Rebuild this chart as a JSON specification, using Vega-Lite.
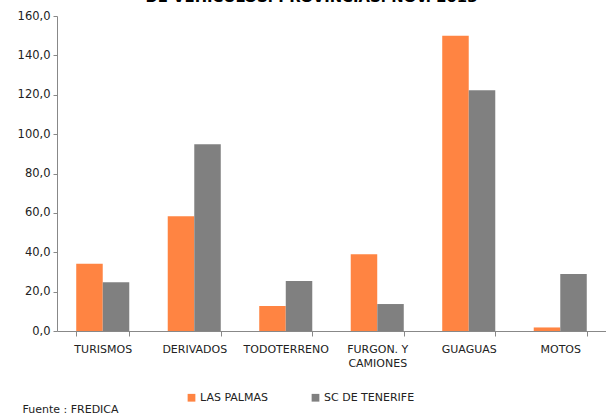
{
  "$schema": "https://vega.github.io/schema/vega-lite/v6.json",
  "width": 549,
  "height": 315,
  "autosize": {"type": "none"},
  "padding": {"left": 57, "top": 16, "right": 0, "bottom": 84},
  "background": "white",
  "title": {
    "text": "DE VEHÍCULOS. PROVINCIAS. NOV. 2013",
    "font": "DejaVu Sans",
    "fontSize": 14.8,
    "fontWeight": "bold",
    "color": "#000000",
    "anchor": "middle",
    "frame": "group",
    "dx": -20,
    "baseline": "alphabetic",
    "offset": 0,
    "dy": 7
  },
  "data": {
    "values": [
      {"tipo": "TURISMOS", "provincia": "LAS PALMAS", "valor": 34.1},
      {"tipo": "TURISMOS", "provincia": "SC DE TENERIFE", "valor": 24.8},
      {"tipo": "DERIVADOS", "provincia": "LAS PALMAS", "valor": 58.3},
      {"tipo": "DERIVADOS", "provincia": "SC DE TENERIFE", "valor": 94.9},
      {"tipo": "TODOTERRENO", "provincia": "LAS PALMAS", "valor": 12.7},
      {"tipo": "TODOTERRENO", "provincia": "SC DE TENERIFE", "valor": 25.4},
      {"tipo": "FURGON. Y CAMIONES", "provincia": "LAS PALMAS", "valor": 39.0},
      {"tipo": "FURGON. Y CAMIONES", "provincia": "SC DE TENERIFE", "valor": 13.7},
      {"tipo": "GUAGUAS", "provincia": "LAS PALMAS", "valor": 150.0},
      {"tipo": "GUAGUAS", "provincia": "SC DE TENERIFE", "valor": 122.3},
      {"tipo": "MOTOS", "provincia": "LAS PALMAS", "valor": 1.8},
      {"tipo": "MOTOS", "provincia": "SC DE TENERIFE", "valor": 29.0}
    ]
  },
  "mark": {"type": "bar", "size": 26.5},
  "encoding": {
    "x": {
      "field": "tipo",
      "type": "nominal",
      "sort": null,
      "scale": {"paddingInner": 0.42, "paddingOuter": 0.21},
      "axis": {
        "title": "Fuente : FREDICA",
        "titleFont": "DejaVu Sans",
        "titleFontSize": 11,
        "titleFontWeight": "normal",
        "titleColor": "#222222",
        "titleAnchor": "start",
        "titleAlign": "left",
        "titleBaseline": "alphabetic",
        "titleX": -35,
        "titleY": 81,
        "labelAngle": 0,
        "labelFont": "DejaVu Sans",
        "labelFontSize": 11,
        "labelColor": "#222222",
        "labelPadding": 7,
        "labelBaseline": "top",
        "labelLineHeight": 14,
        "labelExpr": "datum.value == 'FURGON. Y CAMIONES' ? ['FURGON. Y', 'CAMIONES'] : datum.value",
        "tickBand": "extent",
        "tickSize": 5,
        "tickColor": "#888888",
        "domainColor": "#888888",
        "grid": false
      }
    },
    "xOffset": {"field": "provincia", "type": "nominal", "scale": {"paddingInner": 0, "paddingOuter": 0}},
    "y": {
      "field": "valor",
      "type": "quantitative",
      "scale": {"domain": [0, 160]},
      "axis": {
        "title": null,
        "values": [0, 20, 40, 60, 80, 100, 120, 140, 160],
        "labelExpr": "replace(format(datum.value, '.1f'), '.', ',')",
        "labelFont": "DejaVu Sans",
        "labelFontSize": 11.5,
        "labelColor": "#222222",
        "labelPadding": 3,
        "tickSize": 4,
        "tickColor": "#888888",
        "domainColor": "#888888",
        "grid": false
      }
    },
    "color": {
      "field": "provincia",
      "type": "nominal",
      "scale": {"domain": ["LAS PALMAS", "SC DE TENERIFE"], "range": ["#FF8442", "#808080"]},
      "legend": {
        "title": null,
        "orient": "none",
        "legendX": 129,
        "legendY": 376,
        "direction": "horizontal",
        "columns": 2,
        "gridAlign": "all",
        "columnPadding": 19,
        "symbolType": "square",
        "symbolSize": 60,
        "symbolStrokeWidth": 0,
        "labelOffset": 3,
        "labelFont": "DejaVu Sans",
        "labelFontSize": 11,
        "labelColor": "#222222"
      }
    }
  },
  "config": {"view": {"stroke": null}}
}
